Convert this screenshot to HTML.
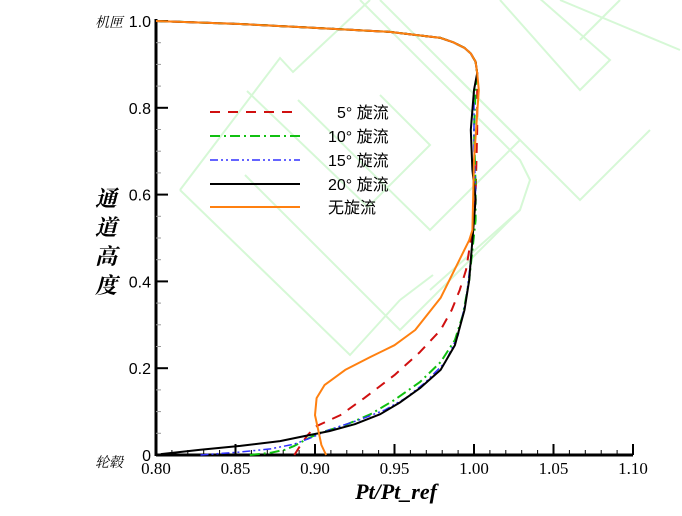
<!DOCTYPE html>
<html><head><meta charset="utf-8"><style>
html,body{margin:0;padding:0;background:#fff;}
svg{display:block;}
</style></head><body>
<svg id="chart" width="682" height="516" viewBox="0 0 682 516" xmlns="http://www.w3.org/2000/svg">
<g id="watermark" fill="none" stroke="#d6f8d6" stroke-width="2">
<polyline points="180,190 280,58 293,72 370,0"/>
<polyline points="247,91 368,207 430,145 380,95"/>
<polyline points="180,190 350,355 400,300"/>
<polyline points="245,175 400,330 520,210"/>
<polyline points="298,100 430,230 520,140 450,70"/>
<polyline points="360,0 500,140 520,160 530,180 520,210 430,290"/>
<polyline points="380,0 580,200 650,130"/>
<polyline points="500,0 580,90 610,60 530,-10"/>
<polyline points="580,40 620,0"/>
<polyline points="560,0 680,50"/>
<polyline points="433,275 400,300"/>
</g>
<g id="axes"></g>
<g id="series"></g>
<g id="legend"></g>
<text x="123" y="27" font-family="Liberation Serif, 'Noto Serif CJK SC', serif" font-style="italic" font-size="14" text-anchor="end">机匣</text>
<text x="123" y="467" font-family="Liberation Serif, 'Noto Serif CJK SC', serif" font-style="italic" font-size="14" text-anchor="end">轮毂</text>
<g font-family="Liberation Serif, 'Noto Serif CJK SC', serif" font-style="italic" font-weight="bold" font-size="22" text-anchor="middle">
<text x="106" y="206">通</text><text x="106" y="235">道</text><text x="106" y="264">高</text><text x="106" y="293">度</text>
</g>
<text x="396" y="499" font-family="Liberation Serif, serif" font-style="italic" font-weight="bold" font-size="22" text-anchor="middle">Pt/Pt_ref</text>
</svg>
<script>
const xTicks = [0.80,0.85,0.90,0.95,1.00,1.05,1.10];
const xTickLabels = ["0.80","0.85","0.90","0.95","1.00","1.05","1.10"];
const yTicks = [0,0.2,0.4,0.6,0.8,1.0];
const yTickLabels = ["0","0.2","0.4","0.6","0.8","1.0"];
const seriesNames = ["5° 旋流","10° 旋流","15° 旋流","20° 旋流","无旋流"];
const topX = [1.002,1.001,0.998,0.994,0.987,0.979,0.947,0.891,0.853,0.800];
const topY = [0.880,0.906,0.925,0.938,0.951,0.961,0.975,0.986,0.993,1.000];
const s5X = [0.887,0.891,0.895,0.900,0.916,0.931,0.950,0.966,0.979,0.986,0.991,0.995,0.997,0.999,1.001,1.002,1.002];
const s5Y = [0,0.023,0.044,0.065,0.092,0.131,0.184,0.237,0.288,0.334,0.380,0.426,0.472,0.518,0.600,0.750,0.850];
const s10X = [0.859,0.872,0.881,0.887,0.894,0.903,0.919,0.935,0.950,0.966,0.979,0.988,0.993,0.997,0.999,1.001,1.001,1.000,1.001];
const s10Y = [0,0.005,0.012,0.021,0.035,0.051,0.069,0.094,0.127,0.168,0.214,0.265,0.323,0.403,0.472,0.541,0.620,0.750,0.841];
const s15X = [0.828,0.853,0.872,0.887,0.897,0.909,0.928,0.944,0.957,0.969,0.982,0.990,0.995,0.998,1.000,1.001,1.000,1.000];
const s15Y = [0,0.007,0.014,0.025,0.039,0.058,0.081,0.104,0.131,0.166,0.214,0.276,0.357,0.449,0.541,0.611,0.703,0.841];
const s20X = [0.803,0.828,0.853,0.878,0.894,0.909,0.925,0.941,0.953,0.966,0.979,0.988,0.994,0.997,0.999,1.001,0.999,0.998,1.000];
const s20Y = [0.002,0.012,0.021,0.032,0.044,0.055,0.071,0.094,0.120,0.154,0.196,0.253,0.334,0.403,0.495,0.588,0.657,0.749,0.841];
const s0X = [0.907,0.904,0.902,0.900,0.901,0.906,0.919,0.935,0.950,0.963,0.979,0.997,0.999,1.000,1.003];
const s0Y = [0,0.023,0.058,0.092,0.131,0.161,0.196,0.226,0.253,0.288,0.362,0.495,0.518,0.680,0.841];

const NS="http://www.w3.org/2000/svg";
const X0=156,X1=474,Y0=455,Y1=21;
function sx(v){return X0+(v-0.8)/0.2*(X1-X0);}
function sy(v){return Y0-v*(Y0-Y1);}
function mk(tag,attrs,parent){const e=document.createElementNS(NS,tag);for(const k in attrs)e.setAttribute(k,attrs[k]);parent.appendChild(e);return e;}

const axes=document.getElementById('axes');
let e=mk('line',{x1:X0,y1:Y0,x2:sx(1.1),y2:Y0,stroke:'#000','stroke-width':3},axes);


e=mk('line',{x1:X0,y1:Y0+1,x2:X0,y2:Y1-2,stroke:'#000','stroke-width':3},axes);


for(let i=0;i<=30;i++){const v=0.8+i*0.01;const major=i%5===0;
  const t=mk('line',{x1:sx(v),y1:Y0,x2:sx(v),y2:Y0-(major?11:5),stroke:'#000','stroke-width':major?2:1},axes);
  
  }
xTicks.forEach((v,i)=>{const t=mk('text',{x:sx(v),y:Y0+19,'text-anchor':'middle','font-family':'Liberation Serif, serif','font-size':17},axes);t.textContent=xTickLabels[i];
  
  });
for(let i=0;i<=20;i++){const v=i*0.05;const major=i%4===0;
  const t=mk('line',{x1:X0,y1:sy(v),x2:X0+(major?12:5),y2:sy(v),stroke:major?'#000':'#999','stroke-width':major?2:1},axes);
  
  }
yTicks.forEach((v,i)=>{const t=mk('text',{x:X0-5,y:sy(v)+6,'text-anchor':'end','font-family':'Liberation Sans, sans-serif','font-size':16},axes);t.textContent=yTickLabels[i];
  
  });

const styles=[
 {c:'#d01010',d:'10,8',w:2},
 {c:'#10c010',d:'10,4,2,4',w:2},
 {c:'#3030ff',d:'8,3,2,3,2,3',w:1.5},
 {c:'#000',d:'',w:2},
 {c:'#ff8010',d:'',w:2}];
const xs=[s5X,s10X,s15X,s20X,s0X], ys=[s5Y,s10Y,s15Y,s20Y,s0Y];
const names=['series-5deg','series-10deg','series-15deg','series-20deg','series-no-swirl'];
const sg=document.getElementById('series');
xs.forEach((X,k)=>{const px=X.concat(topX), py=ys[k].concat(topY);
  const pts=px.map((v,i)=>sx(v).toFixed(1)+','+sy(py[i]).toFixed(1)).join(' ');
  const p=mk('polyline',{points:pts,fill:'none',stroke:styles[k].c,'stroke-width':styles[k].w,'stroke-dasharray':styles[k].d,'stroke-linejoin':'round'},sg);
  
  });

const lg=document.getElementById('legend');
const ly=[112,136,160,184,207];
seriesNames.forEach((n,k)=>{
  const l=mk('line',{x1:210,y1:ly[k],x2:300,y2:ly[k],stroke:styles[k].c,'stroke-width':styles[k].w,'stroke-dasharray':styles[k].d},lg);
  
  
  const t=mk('text',{x:k===4?328:(k===0?337:328),y:ly[k]+6,'font-family':"Liberation Sans, 'Noto Sans CJK SC', sans-serif",'font-size':16},lg);
  t.textContent=n.replace(' ','  ');
  t.setAttribute('xml:space','preserve');
  
  });
</script>
</body></html>
